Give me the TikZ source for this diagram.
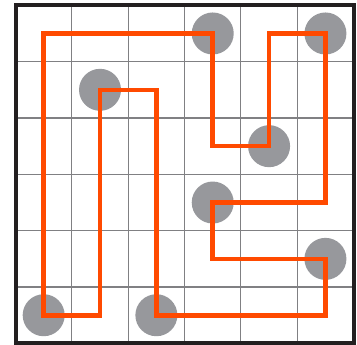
\documentclass[tikz,border=0pt]{standalone}
\definecolor{pathorange}{HTML}{FF4A00}
\definecolor{dotgray}{HTML}{97989C}
\definecolor{gridgray}{HTML}{808083}
\definecolor{frame}{HTML}{231F20}
\tikzset{
  dot/.style={circle,fill=dotgray,inner sep=0pt,minimum size=42pt},
  gridline/.style={draw=gridgray,line width=1.1pt},
  frameline/.style={draw=frame,line width=4pt},
  loop/.style={draw=pathorange,line width=4.6pt,line join=miter}
}
\begin{document}
\begin{tikzpicture}[x=1pt,y=-1pt]
\useasboundingbox (0,0) rectangle (357,345);
\fill[white] (0,0) rectangle (357,345);
\begin{scope}[shift={(15.5,5.3)},x=56.35pt,y=-56.35pt]
  \foreach \i in {1,...,5} {
    \draw[gridline] (\i,0) -- (\i,6);
    \draw[gridline] (0,\i) -- (6,\i);
  }
  \node[dot] (d1) at (1.5,1.5) {};
  \node[dot] (d2) at (3.5,0.5) {};
  \node[dot] (d3) at (5.5,0.5) {};
  \node[dot] (d4) at (4.5,2.5) {};
  \node[dot] (d5) at (3.5,3.5) {};
  \node[dot] (d6) at (5.5,4.5) {};
  \node[dot] (d7) at (0.5,5.5) {};
  \node[dot] (d8) at (2.5,5.5) {};
  \draw[loop] (0.5,0.5) -- (3.5,0.5) -- (3.5,2.5) -- (4.5,2.5) -- (4.5,0.5)
     -- (5.5,0.5) -- (5.5,3.5) -- (3.5,3.5) -- (3.5,4.5) -- (5.5,4.5)
     -- (5.5,5.5) -- (2.5,5.5) -- (2.5,1.5) -- (1.5,1.5) -- (1.5,5.5)
     -- (0.5,5.5) -- cycle;
  \draw[frameline] (0,0) rectangle (6,6);
\end{scope}
\end{tikzpicture}
\end{document}
